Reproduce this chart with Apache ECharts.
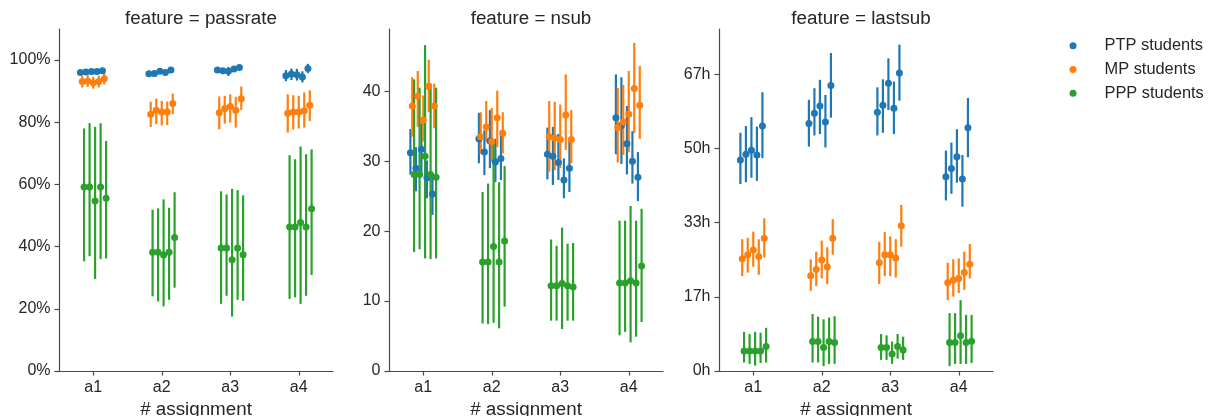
<!DOCTYPE html>
<html>
<head>
<meta charset="utf-8">
<script src="https://cdn.jsdelivr.net/npm/echarts@6/dist/echarts.min.js"></script>
<style>
  html, body { margin: 0; padding: 0; background: #fff; }
  #chart { width: 1213px; height: 416px; }
</style>
</head>
<body>
<div id="chart"></div>
<script>
// ---------- DATA ----------
const categories = ['a1', 'a2', 'a3', 'a4'];
const seriesNames = ['PTP students', 'MP students', 'PPP students'];
const panelTitles = ['feature = passrate', 'feature = nsub', 'feature = lastsub'];
const xAxisName = '# assignment';

const passrateTicks = [0, 20, 40, 60, 80, 100];
const nsubTicks = [0, 10, 20, 30, 40];
const lastsubTicks = [0, 50 / 3, 100 / 3, 50, 200 / 3];

// passrate (%) — each row: one assignment, 5 sub-points
const passrate_PTP_mean = [[96.0, 96.2, 96.3, 96.3, 96.6], [95.6, 95.7, 96.4, 96.0, 96.8], [96.8, 96.6, 96.4, 97.1, 97.6], [95.0, 95.5, 95.3, 94.6, 97.3]];
const passrate_PTP_lo   = [[95.2, 95.3, 95.4, 95.4, 95.7], [94.8, 94.9, 95.5, 95.1, 96.0], [96.0, 95.8, 94.9, 96.3, 96.9], [93.2, 93.6, 93.4, 92.8, 95.8]];
const passrate_PTP_hi   = [[96.8, 97.0, 97.1, 97.1, 97.4], [96.4, 96.5, 97.3, 96.9, 97.6], [97.6, 97.4, 97.8, 97.9, 98.3], [96.8, 97.3, 97.2, 96.4, 98.8]];
const passrate_MP_mean  = [[93.1, 93.3, 92.7, 93.1, 94.0], [82.6, 83.9, 83.3, 83.3, 86.0], [83.1, 84.4, 85.1, 83.9, 87.6], [82.9, 83.3, 83.3, 83.7, 85.5]];
const passrate_MP_lo    = [[91.2, 91.4, 90.8, 91.2, 92.2], [78.5, 79.4, 79.0, 79.1, 82.6], [77.7, 79.6, 79.9, 78.3, 84.0], [76.7, 77.7, 78.0, 78.3, 80.4]];
const passrate_MP_hi    = [[94.9, 95.1, 94.6, 95.0, 95.8], [86.6, 87.6, 86.9, 86.7, 89.2], [88.3, 88.5, 89.0, 88.2, 91.5], [89.0, 88.7, 88.5, 89.6, 90.3]];
const passrate_PPP_mean = [[59.2, 59.2, 54.7, 59.2, 55.6], [38.2, 38.2, 37.3, 38.2, 42.9], [39.6, 39.6, 35.8, 39.6, 37.4], [46.3, 46.3, 47.8, 46.3, 52.2]];
const passrate_PPP_lo   = [[35.3, 36.9, 29.6, 36.0, 36.2], [24.0, 22.4, 20.8, 22.9, 26.8], [21.6, 24.2, 17.5, 22.9, 22.6], [23.2, 23.7, 21.6, 24.2, 30.9]];
const passrate_PPP_hi   = [[78.0, 79.7, 78.5, 79.7, 74.0], [51.9, 52.3, 55.2, 52.5, 57.5], [57.8, 56.8, 58.6, 58.2, 56.5], [69.4, 68.1, 72.2, 69.7, 71.3]];

// nsub
const nsub_PTP_mean = [[31.2, 29.0, 31.7, 27.6, 25.3], [33.2, 31.3, 32.9, 29.9, 30.4], [31.0, 30.7, 29.8, 27.3, 29.0], [36.2, 35.1, 32.5, 30.0, 27.7]];
const nsub_PTP_lo   = [[28.1, 25.7, 28.0, 24.7, 22.3], [29.7, 28.0, 29.0, 27.0, 27.3], [27.4, 26.6, 27.3, 24.7, 25.6], [31.0, 29.6, 28.1, 26.8, 24.3]];
const nsub_PTP_hi   = [[34.6, 32.0, 35.4, 30.1, 27.8], [36.9, 34.4, 37.3, 33.2, 34.4], [34.8, 34.9, 33.9, 30.4, 32.8], [42.4, 42.0, 37.9, 34.3, 31.3]];
const nsub_MP_mean  = [[37.9, 39.3, 35.9, 40.7, 37.9], [33.5, 34.9, 32.8, 36.2, 34.0], [33.5, 33.3, 33.1, 36.6, 33.1], [34.8, 35.6, 36.7, 40.4, 38.0]];
const nsub_MP_lo    = [[33.5, 34.9, 32.8, 37.0, 34.7], [31.0, 32.8, 29.9, 32.0, 31.1], [28.5, 28.7, 29.0, 31.6, 29.7], [29.8, 30.9, 31.3, 34.0, 33.2]];
const nsub_MP_hi    = [[42.0, 42.9, 39.4, 44.5, 41.1], [37.0, 38.6, 37.6, 40.1, 37.0], [38.6, 38.5, 38.1, 42.4, 37.3], [40.5, 40.9, 42.9, 46.9, 43.6]];
const nsub_PPP_mean = [[28.1, 28.1, 30.7, 28.1, 27.7], [15.6, 15.6, 17.8, 15.6, 18.6], [12.2, 12.2, 12.5, 12.2, 12.0], [12.6, 12.6, 12.9, 12.6, 15.0]];
const nsub_PPP_lo   = [[17.0, 17.4, 16.1, 16.0, 16.1], [6.8, 6.7, 6.9, 6.1, 9.2], [7.2, 7.2, 6.0, 7.2, 7.2], [5.1, 5.6, 4.1, 4.9, 7.0]];
const nsub_PPP_hi   = [[41.7, 40.5, 46.6, 41.1, 40.5], [25.6, 26.8, 32.5, 27.0, 29.3], [18.8, 17.9, 20.5, 18.2, 18.3], [21.5, 21.5, 23.6, 21.5, 23.2]];

// lastsub (hours)
const lastsub_PTP_mean = [[47.4, 48.7, 49.6, 48.5, 55.0], [55.6, 57.9, 59.5, 55.9, 64.1], [58.1, 59.7, 64.6, 59.0, 66.9], [43.6, 45.5, 48.1, 43.1, 54.6]];
const lastsub_PTP_lo   = [[42.0, 42.4, 43.4, 42.7, 47.8], [50.4, 52.9, 53.2, 50.2, 56.9], [52.9, 53.5, 58.6, 53.2, 60.7], [38.3, 39.8, 42.3, 36.9, 48.0]];
const lastsub_PTP_hi   = [[53.5, 55.0, 57.0, 54.9, 62.6], [60.9, 63.5, 65.4, 62.0, 71.4], [63.7, 65.5, 70.2, 65.0, 73.3], [49.5, 51.3, 54.3, 48.5, 61.3]];
const lastsub_MP_mean  = [[25.2, 26.1, 27.2, 25.7, 29.8], [21.4, 22.8, 24.9, 23.4, 29.8], [24.3, 26.1, 26.1, 25.4, 32.6], [19.8, 20.4, 20.8, 22.1, 24.0]];
const lastsub_MP_lo    = [[21.3, 22.1, 23.4, 21.6, 25.5], [18.0, 19.1, 20.8, 19.5, 26.1], [19.5, 21.3, 21.3, 21.0, 27.9], [15.9, 16.7, 17.5, 18.2, 20.8]];
const lastsub_MP_hi    = [[29.6, 29.9, 31.3, 29.6, 34.3], [25.1, 26.8, 29.3, 27.8, 34.1], [29.0, 31.2, 30.2, 29.6, 37.3], [24.3, 25.1, 25.3, 26.8, 28.5]];
const lastsub_PPP_mean = [[4.5, 4.5, 4.5, 4.5, 5.5], [6.6, 6.6, 5.3, 6.6, 6.4], [5.3, 5.3, 3.8, 5.5, 4.7], [6.4, 6.4, 7.9, 6.4, 6.7]];
const lastsub_PPP_lo   = [[1.9, 1.6, 1.2, 1.8, 1.9], [1.9, 1.9, 1.1, 1.6, 1.6], [2.5, 2.5, 1.6, 2.8, 2.5], [1.1, 1.6, 1.6, 1.6, 1.8]];
const lastsub_PPP_hi   = [[8.8, 8.3, 8.8, 8.6, 9.7], [12.8, 12.2, 11.6, 12.0, 12.3], [8.3, 8.0, 6.6, 8.3, 7.7], [13.0, 13.0, 15.9, 12.6, 12.6]];

// ---------- STYLE / LAYOUT ----------
const COLORS = ['#1f77b4', '#ff7f0e', '#2ca02c'];
const FONT = "'Liberation Sans', Arial, sans-serif";
const TEXT = '#262626';
const AXIS = '#4a4a4a';
const GRID_LEFTS = [59, 389, 719];
const GRID_TOP = 29, GRID_W = 274, GRID_H = 342;
const DODGE_STEP = 0.0268; // in category-width units, 15 hue levels

const panels = [
  { ticks: passrateTicks, max: 110, fmt: v => Math.round(v) + '%',
    series: [[passrate_PTP_mean, passrate_PTP_lo, passrate_PTP_hi], [passrate_MP_mean, passrate_MP_lo, passrate_MP_hi], [passrate_PPP_mean, passrate_PPP_lo, passrate_PPP_hi]] },
  { ticks: nsubTicks, max: 48.9, fmt: v => String(Math.round(v)),
    series: [[nsub_PTP_mean, nsub_PTP_lo, nsub_PTP_hi], [nsub_MP_mean, nsub_MP_lo, nsub_MP_hi], [nsub_PPP_mean, nsub_PPP_lo, nsub_PPP_hi]] },
  { ticks: lastsubTicks, max: 76.8, fmt: v => Math.round(v) + 'h',
    series: [[lastsub_PTP_mean, lastsub_PTP_lo, lastsub_PTP_hi], [lastsub_MP_mean, lastsub_MP_lo, lastsub_MP_hi], [lastsub_PPP_mean, lastsub_PPP_lo, lastsub_PPP_hi]] }
];

const grids = [], xAxes = [], yAxes = [], titles = [], series = [];

panels.forEach((p, pi) => {
  grids.push({ left: GRID_LEFTS[pi], top: GRID_TOP, width: GRID_W, height: GRID_H, containLabel: false, outerBoundsMode: 'none' });
  titles.push({
    text: panelTitles[pi], left: GRID_LEFTS[pi] + GRID_W / 2, top: 4, textAlign: 'center',
    textStyle: { fontFamily: FONT, fontSize: 18.8, fontWeight: 'normal', color: TEXT }
  });
  xAxes.push({
    type: 'category', gridIndex: pi, data: categories, boundaryGap: true,
    axisLine: { show: true, lineStyle: { color: AXIS, width: 1.2 } },
    axisTick: { show: true, alignWithLabel: true, length: 4.5, lineStyle: { color: AXIS, width: 1.2 } },
    axisLabel: { margin: 8.5, fontFamily: FONT, fontSize: 16, color: TEXT },
    splitLine: { show: false },
    name: xAxisName, nameLocation: 'middle', nameGap: 23,
    nameTextStyle: { fontFamily: FONT, fontSize: 18.8, color: TEXT }
  });
  yAxes.push({
    type: 'value', gridIndex: pi, min: 0, max: p.max,
    axisLine: { show: true, lineStyle: { color: AXIS, width: 1.2 } },
    axisTick: { show: true, length: 4.5, customValues: p.ticks, lineStyle: { color: AXIS, width: 1.2 } },
    axisLabel: { margin: 8.5, fontFamily: FONT, fontSize: 16, color: TEXT, customValues: p.ticks, formatter: p.fmt },
    splitLine: { show: false }
  });

  p.series.forEach((s, ti) => {
    const [mean, lo, hi] = s;
    const data = [];
    mean.forEach((row, ci) => row.forEach((m, si) => data.push([ci, m, lo[ci][si], hi[ci][si], si])));
    const color = COLORS[ti];
    const xOf = (api) => {
      const c = api.coord([api.value(0), api.value(1)]);
      const bw = api.size([1, 0])[0];
      return [c[0] + (api.value(4) * 3 + ti - 7) * DODGE_STEP * bw, c[1]];
    };
    // error bars
    series.push({
      type: 'custom', name: seriesNames[ti], xAxisIndex: pi, yAxisIndex: pi, z: 2,
      encode: { x: 0, y: [1, 2, 3] }, data: data, silent: true,
      itemStyle: { color: color },
      renderItem: (params, api) => {
        const [x] = xOf(api);
        const yl = api.coord([api.value(0), api.value(2)])[1];
        const yh = api.coord([api.value(0), api.value(3)])[1];
        return { type: 'line', shape: { x1: x, y1: yl, x2: x, y2: yh }, style: { stroke: color, lineWidth: 2.2 } };
      }
    });
    // points
    series.push({
      type: 'custom', name: seriesNames[ti], xAxisIndex: pi, yAxisIndex: pi, z: 3,
      encode: { x: 0, y: 1 }, data: data, silent: true,
      itemStyle: { color: color },
      renderItem: (params, api) => {
        const [x, y] = xOf(api);
        return { type: 'circle', shape: { cx: x, cy: y, r: 3.5 }, style: { fill: color } };
      }
    });
  });
});

const chart = echarts.init(document.getElementById('chart'), null, { renderer: 'canvas' });
chart.setOption({
  animation: false,
  backgroundColor: '#ffffff',
  title: titles,
  grid: grids,
  xAxis: xAxes,
  yAxis: yAxes,
  legend: {
    data: seriesNames.map((n, i) => ({ name: n, icon: 'circle', itemStyle: { color: COLORS[i] } })),
    orient: 'vertical', left: 1069.5, top: 37.7, padding: 0,
    itemWidth: 7, itemHeight: 7, itemGap: 7.8,
    textStyle: { fontFamily: FONT, fontSize: 16.4, color: TEXT, lineHeight: 16, padding: [0, 0, 0, 23] },
    selectedMode: false
  },
  series: series
});
</script>
</body>
</html>
